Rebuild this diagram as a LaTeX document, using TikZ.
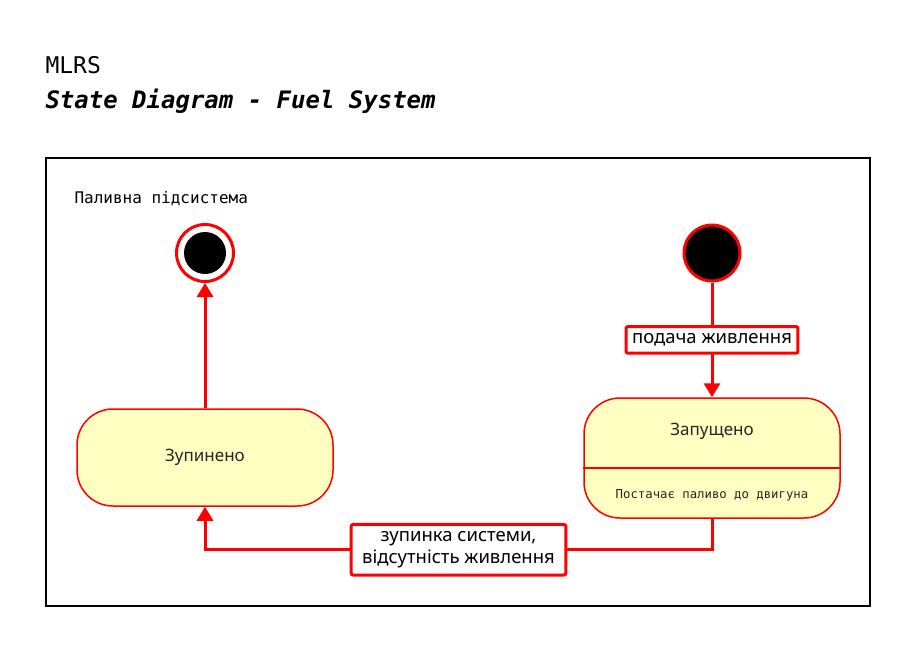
\documentclass[tikz,border=0pt]{standalone}
\usepackage{fontspec}
\setmainfont{Noto Sans}
\setmonofont{DejaVu Sans Mono}
\usetikzlibrary{arrows.meta,positioning}

\definecolor{statefill}{RGB}{254,255,192}
\definecolor{umlred}{RGB}{255,0,0}

\begin{document}
\begin{tikzpicture}[x=1pt,y=-1pt,
  state/.style={draw=umlred,line width=1.5pt,fill=statefill,rounded corners=36pt,
    minimum width=256pt,inner sep=0pt},
  trans/.style={draw=umlred,line width=3pt,-{Triangle[width=16pt,length=14pt]}},
  guard/.style={draw=umlred,line width=3pt,fill=white,rounded corners=2pt,align=center,
    font=\fontsize{18.5}{22}\selectfont,inner xsep=6pt,inner ysep=7pt},
  statetext/.style={font=\fontsize{17}{20}\selectfont,text=black!85}]
  \useasboundingbox (0,0) rectangle (917,653);

  \node[anchor=base west,font=\ttfamily\fontsize{23}{26}\selectfont] (sys) at (42,73) {MLRS};
  \node[anchor=base west,font=\ttfamily\bfseries\itshape\fontsize{24}{26}\selectfont] (title) at (42,108) {State Diagram - Fuel System};

  \draw[line width=2pt] (46,158) rectangle (870,606);
  \node[anchor=base west,font=\ttfamily\fontsize{16}{18}\selectfont] (sub) at (71,203) {Паливна підсистема};

  % initial and final states
  \node[circle,draw=umlred,line width=3pt,fill=black,minimum size=56pt] (start) at (712,253) {};
  \node[circle,draw=umlred,line width=3pt,fill=white,minimum size=57pt] (end) at (205,253) {};
  \node[circle,fill=black,minimum size=42pt,inner sep=0pt] (enddot) at (end.center) {};

  % states
  \node[state,minimum height=120pt] (run) at (712,458) {};
  \draw[umlred,line width=1.5pt] ([yshift=-10pt]run.west) -- ([yshift=-10pt]run.east);
  \node[statetext] (runname) at ([yshift=27pt]run.center) {Запущено};
  \node[font=\ttfamily\fontsize{12.3}{14}\selectfont,text=black!85] (runact) at ([yshift=-37pt]run.center) {Постачає паливо до двигуна};

  \node[state,minimum height=97pt,statetext] (stop) at (205,457.5) {Зупинено};

  % transitions
  \draw[trans] (start) -- node[guard] (power) {подача живлення} (run);
  \draw[trans] (run.south) -- ++(0,31) -| node[guard,pos=0.25,inner xsep=11pt] (halt) {зупинка системи,\\ відсутність живлення} (stop.south);
  \draw[trans] (stop) -- (end);
\end{tikzpicture}
\end{document}
